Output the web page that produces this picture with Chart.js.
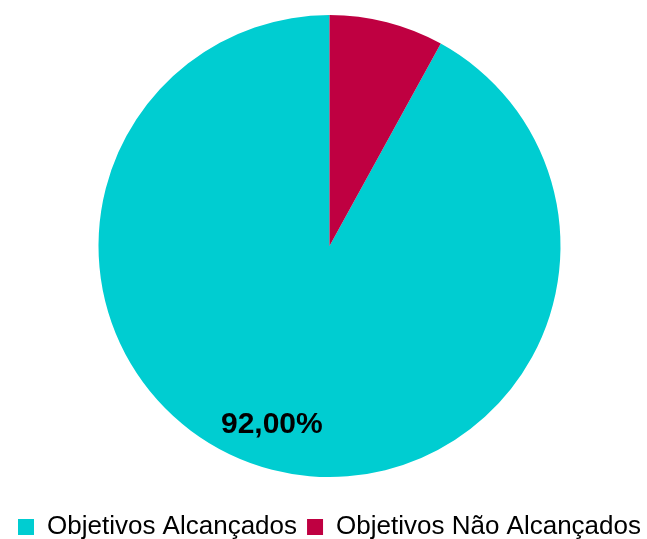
<!DOCTYPE html>
<html>
<head>
<meta charset="utf-8">
<script src="https://cdn.jsdelivr.net/npm/chart.js@4/dist/chart.umd.min.js"></script>
<style>
  html, body { margin: 0; padding: 0; background: #fff; overflow: hidden; width: 647px; height: 539px; }
  /* canvas is a bit larger than the window and nudged so the pie sits where the original has it */
  #wrap { width: 647px; height: 562px; position: relative; margin-top: -12px; margin-left: 6px; }
</style>
</head>
<body>
<div id="wrap"><canvas id="chart"></canvas></div>
<script>
const categories = ["Objetivos Alcançados", "Objetivos Não Alcançados"];
const values = [92, 8];
const sliceColors = ["#00CDD1", "#BF0041"];
// only the big slice carries a label in the original
const shownLabels = ["92,00%", ""];

const sliceLabelPlugin = {
  id: "sliceLabels",
  afterDatasetsDraw(chart) {
    const ctx = chart.ctx;
    const meta = chart.getDatasetMeta(0);
    ctx.save();
    ctx.font = "bold 30px 'Liberation Sans', Arial, sans-serif";
    ctx.fillStyle = "#000";
    ctx.textAlign = "center";
    ctx.textBaseline = "middle";
    meta.data.forEach((arc, i) => {
      const txt = shownLabels[i];
      if (!txt) return;
      const mid = (arc.startAngle + arc.endAngle) / 2 + 0.06;
      const r = arc.outerRadius * 0.815;
      ctx.fillText(txt, arc.x + Math.cos(mid) * r, arc.y + Math.sin(mid) * r);
    });
    ctx.restore();
  },
};

new Chart(document.getElementById("chart"), {
  type: "pie",
  data: {
    labels: categories,
    datasets: [
      {
        data: values,
        backgroundColor: sliceColors,
        borderWidth: 0,
      },
    ],
  },
  options: {
    responsive: true,
    maintainAspectRatio: false,
    animation: false,
    rotation: (values[1] / 100) * 360,
    radius: 231,
    layout: { padding: 0 },
    plugins: {
      legend: {
        position: "bottom",
        labels: {
          color: "#000",
          boxWidth: 16,
          boxHeight: 16,
          padding: 10,
          font: { family: "'Liberation Sans', Arial, sans-serif", size: 26 },
        },
      },
      tooltip: { enabled: false },
    },
  },
  plugins: [sliceLabelPlugin],
});
</script>
</body>
</html>
